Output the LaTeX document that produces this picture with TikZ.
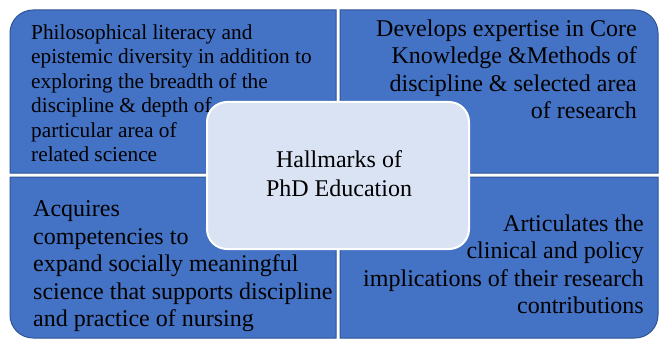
\documentclass[tikz,border=0pt]{standalone}
\usepackage{fontspec}
\setmainfont{Liberation Serif}
\definecolor{quadblue}{HTML}{4472C4}
\definecolor{quadedge}{HTML}{2F5597}
\definecolor{centerfill}{HTML}{DAE3F3}
\begin{document}
\begin{tikzpicture}[x=1pt,y=-1pt,
  quad/.style={fill=quadblue,draw=quadedge,line width=1pt},
  qtext/.style={inner sep=0pt,text=black},
  hub/.style={fill=centerfill,draw=white,line width=2pt,rounded corners=20pt,minimum width=262pt,minimum height=147pt,inner sep=0pt}]
\useasboundingbox[fill=white] (0,0) rectangle (660,339);
% quadrants (one rounded outer corner each)
\draw[quad] (10,173) -- (10,33) arc[start angle=180,end angle=270,radius=23] -- (336,10) -- (336,173) -- cycle;
\draw[quad] (340,10) -- (635,10) arc[start angle=270,end angle=360,radius=23] -- (658,173) -- (340,173) -- cycle;
\draw[quad] (10,177) -- (10,315) arc[start angle=180,end angle=90,radius=23] -- (336,338) -- (336,177) -- cycle;
\draw[quad] (340,177) -- (658,177) -- (658,315) arc[start angle=0,end angle=90,radius=23] -- (340,338) -- cycle;
% texts
\node[qtext,anchor=north west,align=left,font=\fontsize{21.3}{24.4}\selectfont] (tl) at (31,24.5)
 {Philosophical literacy and\\epistemic diversity in addition to\\exploring the breadth of the\\discipline \& depth of\\particular area of\\related science};
\node[qtext,anchor=north east,align=right,font=\fontsize{24}{27.4}\selectfont] (tr) at (637,19.6)
 {Develops expertise in Core\\Knowledge \&Methods of\\discipline \& selected area\\of research};
\node[qtext,anchor=north west,align=left,font=\fontsize{24}{27.5}\selectfont] (bl) at (33,200.6)
 {Acquires\\competencies to\\expand socially meaningful\\science that supports discipline\\and practice of nursing};
\node[qtext,anchor=north east,align=right,font=\fontsize{24}{27.3}\selectfont] (br) at (644,214.6)
 {Articulates the\\clinical and policy\\implications of their research\\contributions};
% hub
\node[hub] (hub) at (338,175.5) {};
\node[qtext,anchor=north,align=center,font=\fontsize{24}{29}\selectfont] (hubtext) at (339,150.6)
 {Hallmarks of\\PhD Education};
\end{tikzpicture}
\end{document}
